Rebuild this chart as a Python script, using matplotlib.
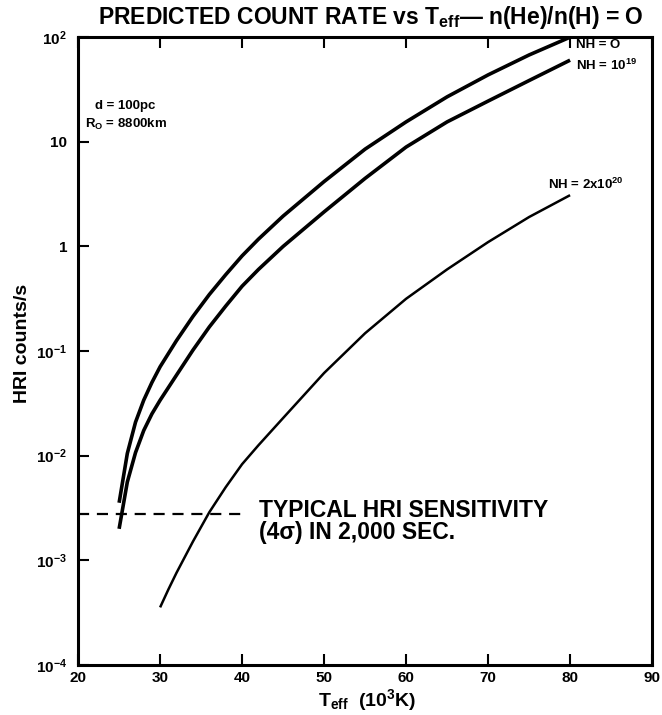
import matplotlib
matplotlib.use("Agg")
import matplotlib.pyplot as plt

plt.rcParams['font.family'] = ['Liberation Sans', 'DejaVu Sans']
plt.rcParams['font.weight'] = 'bold'
plt.rcParams['mathtext.fontset'] = 'custom'
plt.rcParams['mathtext.rm'] = 'Liberation Sans:bold'
plt.rcParams['mathtext.bf'] = 'Liberation Sans:bold'
plt.rcParams['mathtext.it'] = 'Liberation Sans:bold'
plt.rcParams['mathtext.default'] = 'bf'

# ---- data ----
t_nh0 = [25, 26, 27, 28, 29, 30, 32, 34, 36, 38, 40, 42, 45, 50, 55, 60, 65, 70, 75, 80]
r_nh0 = [3.55e-3, 0.0105, 0.0209, 0.0339, 0.0501, 0.0708, 0.126, 0.214, 0.347, 0.537,
         0.813, 1.175, 1.95, 4.17, 8.51, 15.5, 26.9, 43.6, 67.6, 100]

t_nh19 = [25, 26, 27, 28, 29, 30, 32, 34, 36, 38, 40, 42, 45, 50, 55, 60, 65, 70, 75, 80]
r_nh19 = [2.0e-3, 5.6e-3, 0.0107, 0.0174, 0.0251, 0.0339, 0.0589, 0.102, 0.170, 0.269,
          0.417, 0.603, 1.0, 2.14, 4.47, 8.91, 15.5, 24.5, 38.5, 60.3]

t_nh20 = [30, 31, 32, 34, 36, 38, 40, 42, 45, 50, 55, 60, 65, 70, 75, 80]
r_nh20 = [3.55e-4, 5.25e-4, 7.6e-4, 1.51e-3, 2.88e-3, 5.0e-3, 8.3e-3, 0.0126, 0.0229,
          0.0617, 0.148, 0.316, 0.603, 1.10, 1.91, 3.09]

sens_t = [20, 40]
sens_rate = [2.8e-3, 2.8e-3]

x_ticks = [20, 30, 40, 50, 60, 70, 80, 90]
y_ticks = [1e-4, 1e-3, 1e-2, 1e-1, 1, 10, 100]
y_ticklabels = [r'$10^{-4}$', r'$10^{-3}$', r'$10^{-2}$', r'$10^{-1}$', '1', '10', r'$10^{2}$']

fig = plt.figure(figsize=(6.62, 7.15), dpi=100)
ax = fig.add_axes([0.118, 0.070, 0.867, 0.878])

ax.plot(t_nh0, r_nh0, color='black', lw=2.6, solid_capstyle='butt', solid_joinstyle='round')
ax.plot(t_nh19, r_nh19, color='black', lw=2.6, solid_capstyle='butt', solid_joinstyle='round')
ax.plot(t_nh20, r_nh20, color='black', lw=1.8, solid_capstyle='butt', solid_joinstyle='round')
ax.plot(sens_t, sens_rate, color='black', lw=1.6, dashes=(5, 3.5))

ax.set_yscale('log')
ax.set_xlim(20, 90)
ax.set_ylim(1e-4, 100)
ax.set_xticks(x_ticks)
ax.set_xticklabels([str(v) for v in x_ticks])
ax.set_yticks(y_ticks)
ax.set_yticklabels(y_ticklabels)
ax.minorticks_off()
ax.tick_params(axis='x', direction='in', length=8, width=1.5, top=True, labelsize=11, pad=4)
ax.tick_params(axis='y', direction='in', length=8, width=1.5, right=False, labelsize=11, pad=8)
for lab in ax.get_xticklabels() + ax.get_yticklabels():
    lab.set_fontweight('bold')
for sp in ax.spines.values():
    sp.set_linewidth(2.2)

fig.text(0.555, 0.021, r'T$_{\mathbf{eff}}$  (10$^{\mathbf{3}}$K)', fontsize=14,
         fontweight='bold', ha='center', va='center')
fig.text(0.034, 0.52, 'HRI counts/s', fontsize=14, fontweight='bold',
         ha='center', va='center', rotation=90)

fig.text(0.56, 0.975, r'PREDICTED COUNT RATE vs T$_{\mathbf{eff}}$— n(He)/n(H) = O',
         ha='center', va='center', fontsize=16.5, fontweight='bold')

ax.text(80.7, 84, 'NH = O', fontsize=9.5, fontweight='bold', ha='left', va='center')
ax.text(80.7, 54, r'NH = 10$^{\mathbf{19}}$', fontsize=9.5, fontweight='bold', ha='left', va='center')
ax.text(77.3, 3.9, r'NH = 2x10$^{\mathbf{20}}$', fontsize=9.5, fontweight='bold', ha='left', va='center')

ax.text(25.8, 22, 'd = 100pc', fontsize=9.5, fontweight='bold', ha='center', va='center')
ax.text(25.8, 14.5, r'R$_{\mathbf{O}}$ = 8800km', fontsize=9.5, fontweight='bold', ha='center', va='center')

ax.text(42.0, 2.35e-3, 'TYPICAL HRI SENSITIVITY\n(4σ) IN 2,000 SEC.', fontsize=16.5,
        fontweight='bold', ha='left', va='center', linespacing=0.92)

fig.savefig('out.png', dpi=100)
